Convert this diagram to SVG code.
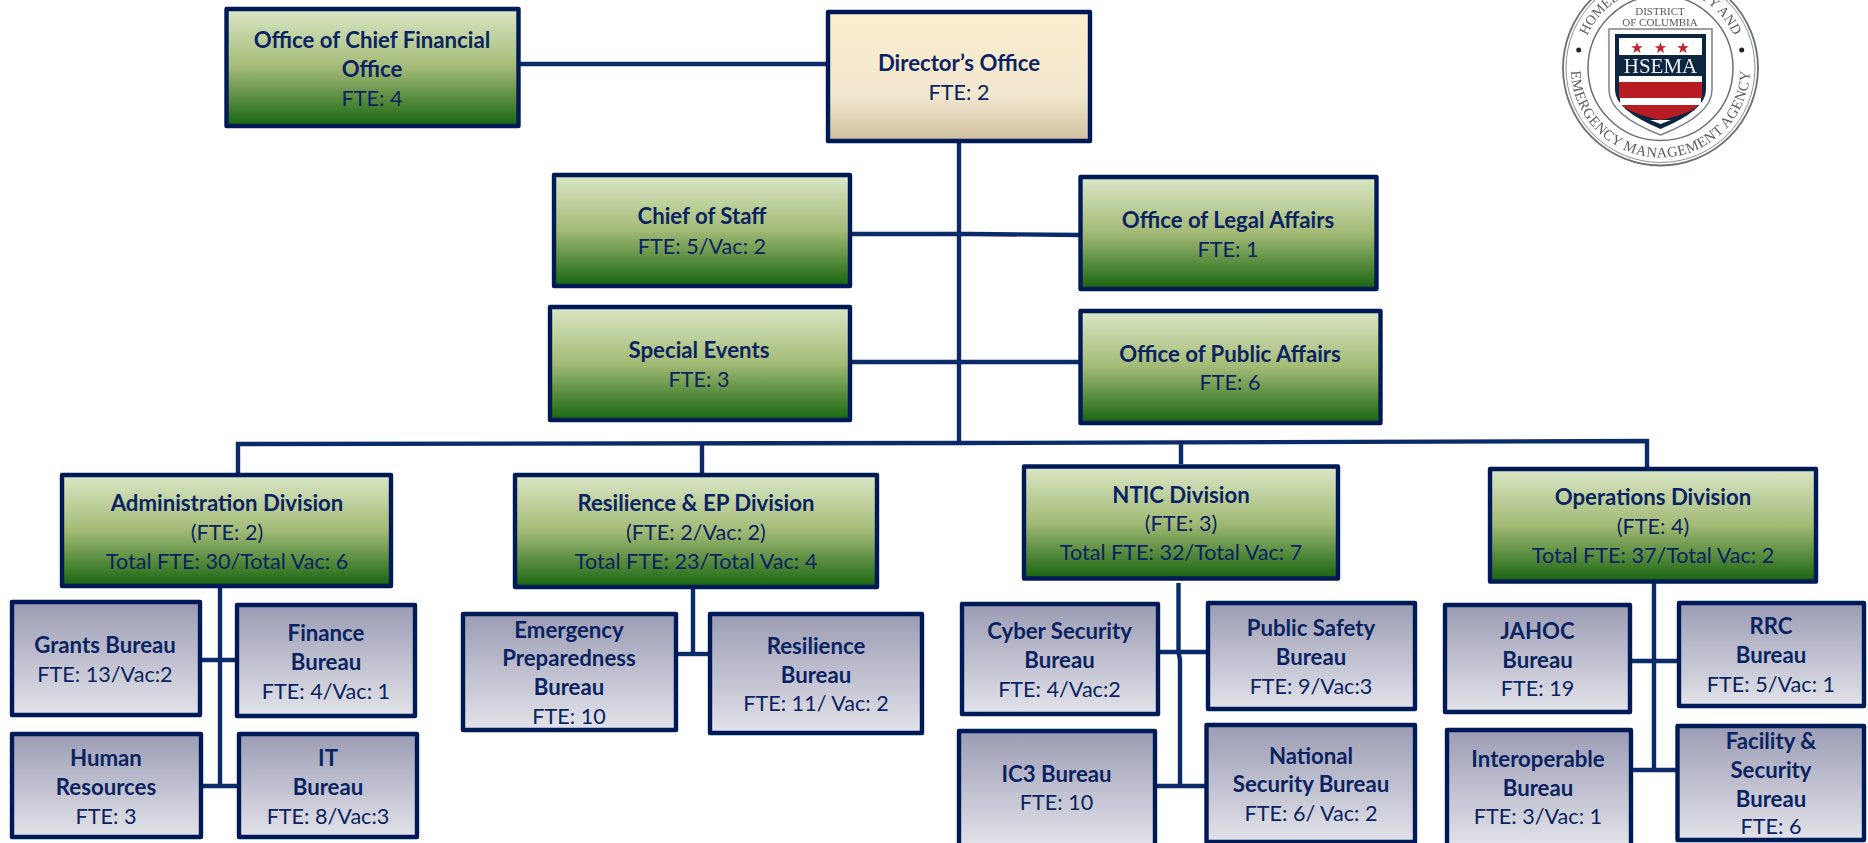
<svg xmlns="http://www.w3.org/2000/svg" width="1868" height="843" viewBox="0 0 1868 843">
<style>
text{font-family:"Lato","Carlito","Liberation Sans",sans-serif;fill:#0b2360;text-anchor:middle;font-size:21.600px;transform:translateY(1px)}
.b{font-weight:700;font-size:22.200px}
.g,.s,.d{stroke:#001a57;stroke-width:4.400;stroke-linejoin:round}
.g{fill:url(#green)}.s{fill:url(#slate)}.d{fill:url(#tan)}
.c{fill:none;stroke:#0a2a6a;stroke-width:4.400}
.lg text{font-family:"Liberation Serif",serif;fill:#555b63;transform:none}
</style>
<defs>
<linearGradient id="green" x1="0" y1="0" x2="0" y2="1"><stop offset="0" stop-color="#dbe7c7"/><stop offset=".5" stop-color="#a3ba76"/><stop offset="1" stop-color="#17640f"/></linearGradient>
<linearGradient id="slate" x1="0" y1="0" x2="0" y2="1"><stop offset="0" stop-color="#9b9cb4"/><stop offset="1" stop-color="#e3e3ea"/></linearGradient>
<linearGradient id="tan" x1="0" y1="0" x2="0" y2="1"><stop offset="0" stop-color="#fdedcf"/><stop offset=".65" stop-color="#f1e7cf"/><stop offset="1" stop-color="#cfbf9f"/></linearGradient>
<filter id="soft" x="-5%" y="-5%" width="110%" height="110%"><feGaussianBlur stdDeviation="0.5"/></filter>
<path id="arcTop" d="M1580.500 68A80 80 0 0 1 1740.500 68"/>
<path id="arcBot" d="M1571 68A89.500 89.500 0 0 0 1750 68"/>
</defs>
<g id="connectors">
<path class="c" d="M520 64H828"/>
<path class="c" d="M959 141V443"/>
<path class="c" d="M850 234H970L1080 235"/>
<path class="c" d="M850 362H1080"/>
<path class="c" d="M238 475V444L960 443L1647 441V467"/>
<path class="c" d="M702 443V475"/>
<path class="c" d="M1181 442V464"/>
<path class="c" d="M220 587V786"/>
<path class="c" d="M202 660H236"/>
<path class="c" d="M203 786H238"/>
<path class="c" d="M693 587V654"/>
<path class="c" d="M677 654H709"/>
<path class="c" d="M1178.500 583V652L1180 660V786"/>
<path class="c" d="M1160 652H1206"/>
<path class="c" d="M1157 786H1205"/>
<path class="c" d="M1654 583V770"/>
<path class="c" d="M1632 661H1677"/>
<path class="c" d="M1633 770H1676"/>
</g>
<g id="cfo"><rect class="g" x="226.500" y="9" width="292" height="117"/><text class="b" x="372" y="47">Office of Chief Financial</text><text class="b" x="372" y="76">Office</text><text x="372" y="105">FTE: 4</text></g>
<g id="director"><rect class="d" x="828" y="12" width="262" height="129"/><text class="b" x="959" y="70">Director’s Office</text><text x="959" y="99">FTE: 2</text></g>
<g id="chief-of-staff"><rect class="g" x="554" y="175" width="296" height="111"/><text class="b" x="702" y="223">Chief of Staff</text><text x="702" y="253">FTE: 5/Vac: 2</text></g>
<g id="legal"><rect class="g" x="1080.500" y="177" width="296" height="112"/><text class="b" x="1228" y="227">Office of Legal Affairs</text><text x="1228" y="256">FTE: 1</text></g>
<g id="special-events"><rect class="g" x="550" y="307" width="300" height="113"/><text class="b" x="699" y="357">Special Events</text><text x="699" y="386">FTE: 3</text></g>
<g id="public-affairs"><rect class="g" x="1080.500" y="311" width="300" height="112"/><text class="b" x="1230" y="361">Office of Public Affairs</text><text x="1230" y="389">FTE: 6</text></g>
<g id="admin"><rect class="g" x="62" y="475" width="329" height="111"/><text class="b" x="227" y="510">Administration Division</text><text x="227" y="539">(FTE: 2)</text><text x="227" y="568">Total FTE: 30/Total Vac: 6</text></g>
<g id="resilience-div"><rect class="g" x="515" y="475" width="362" height="112"/><text class="b" x="696" y="510">Resilience &amp; EP Division</text><text x="696" y="539">(FTE: 2/Vac: 2)</text><text x="696" y="568">Total FTE: 23/Total Vac: 4</text></g>
<g id="ntic"><rect class="g" x="1024" y="466.500" width="314" height="112"/><text class="b" x="1181" y="502">NTIC Division</text><text x="1181" y="530">(FTE: 3)</text><text x="1181" y="559">Total FTE: 32/Total Vac: 7</text></g>
<g id="operations"><rect class="g" x="1490" y="469" width="326" height="112.500"/><text class="b" x="1653" y="504">Operations Division</text><text x="1653" y="533">(FTE: 4)</text><text x="1653" y="562">Total FTE: 37/Total Vac: 2</text></g>
<g id="grants"><rect class="s" x="12" y="602" width="188" height="113"/><text class="b" x="105" y="652">Grants Bureau</text><text x="105" y="681">FTE: 13/Vac:2</text></g>
<g id="finance"><rect class="s" x="237" y="605" width="178" height="111"/><text class="b" x="326" y="640">Finance</text><text class="b" x="326" y="669">Bureau</text><text x="326" y="698">FTE: 4/Vac: 1</text></g>
<g id="hr"><rect class="s" x="12" y="734" width="189" height="103"/><text class="b" x="106" y="765">Human</text><text class="b" x="106" y="794">Resources</text><text x="106" y="823">FTE: 3</text></g>
<g id="it"><rect class="s" x="239" y="734" width="178" height="103"/><text class="b" x="328" y="765">IT</text><text class="b" x="328" y="794">Bureau</text><text x="328" y="823">FTE: 8/Vac:3</text></g>
<g id="emergency"><rect class="s" x="463" y="614" width="213" height="116"/><text class="b" x="569" y="637">Emergency</text><text class="b" x="569" y="665">Preparedness</text><text class="b" x="569" y="694">Bureau</text><text x="569" y="723">FTE: 10</text></g>
<g id="resilience-bureau"><rect class="s" x="710" y="614" width="212" height="119"/><text class="b" x="816" y="653">Resilience</text><text class="b" x="816" y="682">Bureau</text><text x="816" y="710">FTE: 11/ Vac: 2</text></g>
<g id="cyber"><rect class="s" x="962" y="604" width="196" height="110"/><text class="b" x="1059.500" y="638">Cyber Security</text><text class="b" x="1059.500" y="667">Bureau</text><text x="1059.500" y="696">FTE: 4/Vac:2</text></g>
<g id="public-safety"><rect class="s" x="1208" y="603" width="207" height="106"/><text class="b" x="1311" y="635">Public Safety</text><text class="b" x="1311" y="664">Bureau</text><text x="1311" y="693">FTE: 9/Vac:3</text></g>
<g id="ic3"><rect class="s" x="959" y="731" width="196" height="116"/><text class="b" x="1056.500" y="781">IC3 Bureau</text><text x="1056.500" y="809">FTE: 10</text></g>
<g id="national"><rect class="s" x="1206.500" y="725" width="208.500" height="117"/><text class="b" x="1311" y="763">National</text><text class="b" x="1311" y="791">Security Bureau</text><text x="1311" y="820">FTE: 6/ Vac: 2</text></g>
<g id="jahoc"><rect class="s" x="1445" y="605" width="185" height="107"/><text class="b" x="1537.500" y="638">JAHOC</text><text class="b" x="1537.500" y="667">Bureau</text><text x="1537.500" y="695">FTE: 19</text></g>
<g id="rrc"><rect class="s" x="1679" y="603" width="185" height="103"/><text class="b" x="1771" y="633">RRC</text><text class="b" x="1771" y="662">Bureau</text><text x="1771" y="691">FTE: 5/Vac: 1</text></g>
<g id="interoperable"><rect class="s" x="1447" y="730" width="184" height="117"/><text class="b" x="1538" y="766">Interoperable</text><text class="b" x="1538" y="795">Bureau</text><text x="1538" y="823">FTE: 3/Vac: 1</text></g>
<g id="facility"><rect class="s" x="1677.500" y="726" width="186.500" height="114"/><text class="b" x="1771" y="748">Facility &amp;</text><text class="b" x="1771" y="777">Security</text><text class="b" x="1771" y="806">Bureau</text><text x="1771" y="833">FTE: 6</text></g>
<g id="logo" class="lg" filter="url(#soft)">
<circle cx="1660.500" cy="68" r="97.500" fill="#fff" stroke="#6a7078" stroke-width="1.800"/>
<circle cx="1660.500" cy="68" r="94.500" fill="none" stroke="#8b9097" stroke-width="1"/>
<circle cx="1660.500" cy="68" r="72.500" fill="none" stroke="#6a7078" stroke-width="1.500"/>
<circle cx="1578.700" cy="50" r="2.500" fill="#222"/><circle cx="1741.700" cy="50" r="2.500" fill="#222"/>
<text style="font-size:14px"><textPath href="#arcTop" startOffset="50%">HOMELAND SECURITY AND</textPath></text>
<text letter-spacing="0.500" style="font-size:14.500px"><textPath href="#arcBot" startOffset="50%">EMERGENCY MANAGEMENT AGENCY</textPath></text>
<text x="1660" y="15" style="font-size:11px">DISTRICT</text>
<text x="1660" y="26" style="font-size:11px">OF COLUMBIA</text>
<path d="M1609 29H1712V90Q1712 115 1660.500 135Q1609 115 1609 90Z" fill="#fff" stroke="#7d8288" stroke-width="1.500"/>
<path d="M1615 34H1706V90Q1706 110 1660.500 129Q1615 110 1615 90Z" fill="#0e2540"/>
<path d="M1619 38H1702V55H1619Z" fill="#fff"/>
<path d="M1619 76H1702V82H1619Z" fill="#fff"/>
<path d="M1619 82H1702V98H1619Z" fill="#b71c22"/>
<path d="M1620 98H1701V105H1620Z" fill="#fff"/>
<path d="M1622 105H1699Q1690 114 1660.500 120Q1631 114 1622 105Z" fill="#b71c22"/>
<path d="M1650 120H1671L1660.500 124Z" fill="#fff"/>
<path d="M1637 42l1.400 4.200h4.400l-3.500 2.600 1.300 4.200-3.600-2.600-3.600 2.600 1.300-4.200-3.500-2.600h4.400Z" fill="#c3202a"/>
<path d="M1660.500 42l1.400 4.200h4.400l-3.500 2.600 1.300 4.200-3.600-2.600-3.600 2.600 1.300-4.200-3.500-2.600h4.400Z" fill="#c3202a"/>
<path d="M1683 42l1.400 4.200h4.400l-3.500 2.600 1.300 4.200-3.600-2.600-3.600 2.600 1.300-4.200-3.500-2.600h4.400Z" fill="#c3202a"/>
<text x="1660.500" y="73" style="font-size:21px;fill:#eef0f2">HSEMA</text>
</g>
</svg>
